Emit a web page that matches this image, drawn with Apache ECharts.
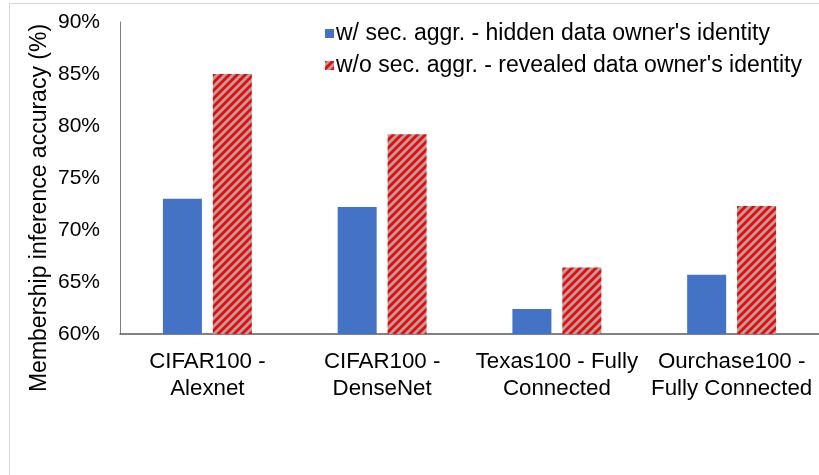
<!DOCTYPE html>
<html>
<head>
<meta charset="utf-8">
<script src="https://cdn.jsdelivr.net/npm/echarts@6/dist/echarts.min.js"></script>
<style>
html,body{margin:0;padding:0;background:#fff;}
#chart{width:819px;height:475px;}
</style>
</head>
<body>
<div id="chart"></div>
<script>
const categories = ['CIFAR100 -\nAlexnet', 'CIFAR100 -\nDenseNet', 'Texas100 - Fully\nConnected', 'Ourchase100 -\nFully Connected'];
const seriesNames = ["w/ sec. aggr. - hidden data owner's identity", "w/o sec. aggr. - revealed data owner's identity"];
const hiddenValues = [73.0, 72.2, 62.4, 65.7];
const revealedValues = [85.0, 79.2, 66.4, 72.3];
const yTicks = [60, 65, 70, 75, 80, 85, 90];
const yTitle = 'Membership inference accuracy (%)';

const baseFont = '"Liberation Sans", Arial, sans-serif';

function makePattern() {
  const size = 8;
  const cv = document.createElement('canvas');
  cv.width = size; cv.height = size;
  const c = cv.getContext('2d');
  c.fillStyle = '#a5a5a5';
  c.fillRect(0, 0, size, size);
  c.strokeStyle = '#ff0000';
  c.lineWidth = 2.8;
  c.beginPath();
  c.moveTo(-2, size + 2); c.lineTo(size + 2, -2);
  c.moveTo(-2, 2); c.lineTo(2, -2);
  c.moveTo(size - 2, size + 2); c.lineTo(size + 2, size - 2);
  c.stroke();
  return cv;
}

const chart = echarts.init(document.getElementById('chart'), null, {renderer: 'canvas'});
chart.setOption({
  animation: false,
  backgroundColor: '#ffffff',
  grid: {left: 120, top: 22, width: 700, bottom: 141, containLabel: false},
  legend: {
    orient: 'vertical',
    left: 325,
    top: 22,
    padding: 0,
    itemWidth: 9,
    itemHeight: 9,
    itemGap: 9,
    icon: 'rect',
    textStyle: {fontFamily: baseFont, fontSize: 23, lineHeight: 22, color: '#000', padding: [0, 0, 0, -3]},
    data: seriesNames
  },
  xAxis: {
    type: 'category',
    data: categories,
    axisLine: {lineStyle: {color: '#595959', width: 1.5}},
    axisTick: {show: false},
    axisLabel: {fontFamily: baseFont, fontSize: 22.3, lineHeight: 27, color: '#000', margin: 14, interval: 0}
  },
  yAxis: {
    type: 'value',
    min: yTicks[0],
    max: yTicks[yTicks.length - 1],
    interval: 5,
    splitLine: {show: false},
    axisLine: {show: true, lineStyle: {color: '#7f7f7f', width: 1}},
    axisTick: {show: false},
    axisLabel: {formatter: '{value}%', fontFamily: baseFont, fontSize: 21, color: '#000', margin: 20}
  },
  series: [
    {
      name: seriesNames[0],
      type: 'bar',
      data: hiddenValues,
      barWidth: 39,
      barGap: '28%',
      itemStyle: {color: '#4472c4'}
    },
    {
      name: seriesNames[1],
      type: 'bar',
      data: revealedValues,
      barWidth: 39,
      barGap: '28%',
      itemStyle: {color: {image: makePattern(), repeat: 'repeat'}}
    }
  ],
  graphic: [
    {
      type: 'rect',
      shape: {x: 9.5, y: 3.5, width: 900, height: 600},
      style: {fill: 'none', stroke: '#d9d9d9', lineWidth: 1},
      silent: true,
      z: -1
    },
    {
      type: 'text',
      x: 40,
      y: 208,
      rotation: Math.PI / 2,
      style: {text: yTitle, fontFamily: baseFont, fontSize: 23, fill: '#000', align: 'center', verticalAlign: 'middle'},
      silent: true
    }
  ]
});
</script>
</body>
</html>
